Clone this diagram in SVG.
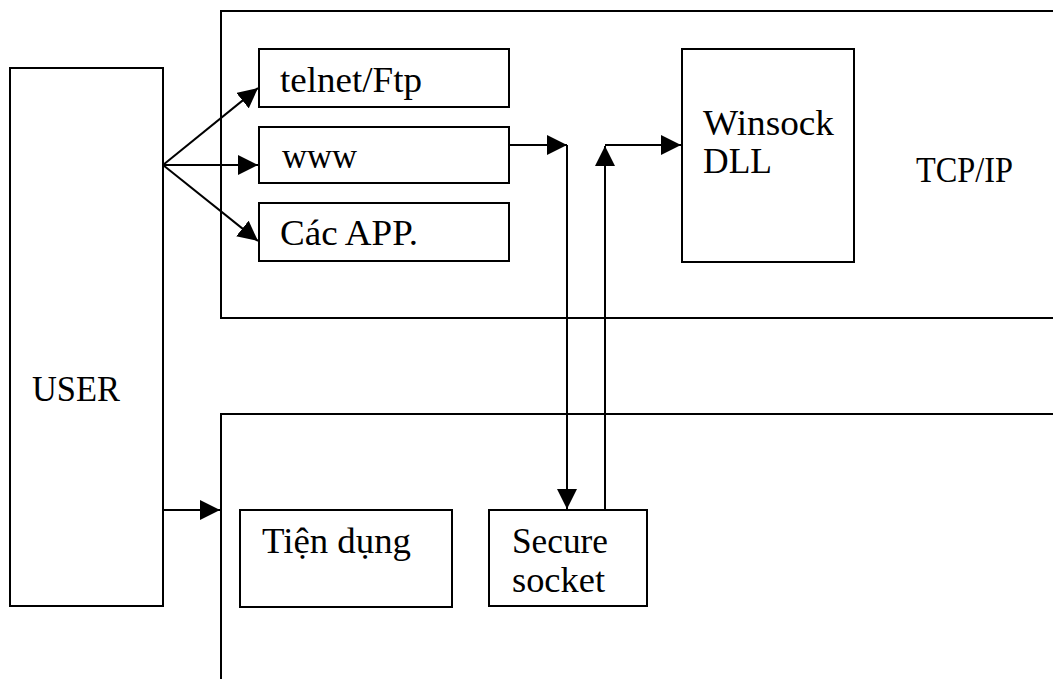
<svg xmlns="http://www.w3.org/2000/svg" width="1053" height="679" viewBox="0 0 1053 679">
  <style>
    .box { fill: #ffffff; stroke: #000000; stroke-width: 2; }
    .frame { fill: none; stroke: #000000; stroke-width: 2; }
    .wire { fill: none; stroke: #000000; stroke-width: 2; }
  </style>
  <defs>
    <marker id="arrow" viewBox="0 0 20 20" refX="20" refY="10" markerWidth="20" markerHeight="20" markerUnits="userSpaceOnUse" orient="auto">
      <path d="M0,0 L20,10 L0,20 Z" fill="#000000"/>
    </marker>
  </defs>
  <rect width="1053" height="679" fill="#ffffff"/>

  <g font-family="Liberation Serif, serif" font-size="35" fill="#000000">
    <!-- TCP/IP layer frame (open to the right) -->
    <g id="tcpip-layer">
      <path class="frame" d="M1060,11 H221 V318 H1060"/>
      <text x="916" y="182" textLength="97" lengthAdjust="spacingAndGlyphs">TCP/IP</text>
    </g>

    <!-- lower layer frame (open to the right and bottom) -->
    <g id="lower-layer">
      <path class="frame" d="M1060,414 H221 V690"/>
    </g>

    <g id="user">
      <rect class="box" x="10" y="68" width="153" height="538"/>
      <text x="32" y="401" textLength="88" lengthAdjust="spacingAndGlyphs">USER</text>
    </g>

    <g id="telnet">
      <rect class="box" x="259" y="49" width="250" height="58"/>
      <text x="280" y="92" textLength="142" lengthAdjust="spacingAndGlyphs">telnet/Ftp</text>
    </g>

    <g id="www">
      <rect class="box" x="259" y="127" width="250" height="56"/>
      <text x="282" y="168" textLength="75" lengthAdjust="spacingAndGlyphs">www</text>
    </g>

    <g id="apps">
      <rect class="box" x="259" y="203" width="250" height="58"/>
      <text x="280" y="245" textLength="138" lengthAdjust="spacingAndGlyphs">Các APP.</text>
    </g>

    <g id="winsock">
      <rect class="box" x="682" y="49" width="172" height="213"/>
      <text x="703" y="135" textLength="131" lengthAdjust="spacingAndGlyphs">Winsock</text>
      <text x="703" y="173" textLength="69" lengthAdjust="spacingAndGlyphs">DLL</text>
    </g>

    <g id="tien-dung">
      <rect class="box" x="240" y="510" width="212" height="97"/>
      <text x="262" y="553" textLength="149" lengthAdjust="spacingAndGlyphs">Tiện dụng</text>
    </g>

    <g id="secure-socket">
      <rect class="box" x="489" y="510" width="158" height="96"/>
      <text x="512" y="553" textLength="96" lengthAdjust="spacingAndGlyphs">Secure</text>
      <text x="512" y="592" textLength="93" lengthAdjust="spacingAndGlyphs">socket</text>
    </g>
  </g>

  <g id="connectors">
    <line class="wire" x1="163" y1="165" x2="258" y2="88" marker-end="url(#arrow)"/>
    <line class="wire" x1="163" y1="165" x2="258" y2="165" marker-end="url(#arrow)"/>
    <line class="wire" x1="163" y1="165" x2="258" y2="241" marker-end="url(#arrow)"/>
    <line class="wire" x1="163" y1="510" x2="220" y2="510" marker-end="url(#arrow)"/>
    <polyline class="wire" points="509,145 567,145" marker-end="url(#arrow)"/>
    <polyline class="wire" points="567,145 567,509" marker-end="url(#arrow)"/>
    <polyline class="wire" points="605,510 605,146" marker-end="url(#arrow)"/>
    <polyline class="wire" points="605,145 681,145" marker-end="url(#arrow)"/>
  </g>
</svg>
